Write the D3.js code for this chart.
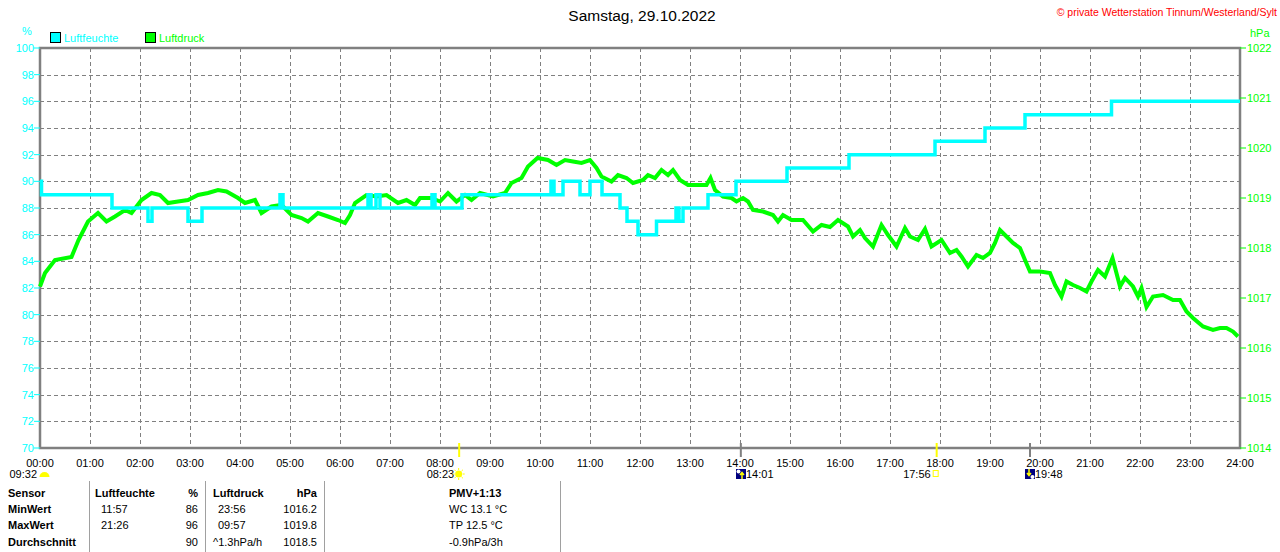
<!DOCTYPE html>
<html>
<head>
<meta charset="utf-8">
<script src="https://cdn.jsdelivr.net/npm/d3@7"></script>
<style>
  body { margin: 0; background: #fff; }
  svg { display: block; font-family: "Liberation Sans", Arial, sans-serif; }
</style>
</head>
<body>
<svg id="canvas" width="1280" height="552"></svg>
<script>
// humidity (%) - step values, time in hours
const humTime = [0, 0.03, 1.44, 2.16, 2.24, 2.96, 3.24, 4.8, 4.86, 6.56, 6.62, 6.72, 6.8, 7.84, 7.9, 8.44,
  10.22, 10.28, 10.46, 10.8, 11.0, 11.24, 11.6, 11.74, 11.96, 12.33, 12.72, 12.78, 12.86, 13.36, 13.92,
  14.94, 16.18, 17.9, 18.9, 19.7, 21.43, 24]
const humVal = [90, 89, 88, 87, 88, 87, 88, 89, 88, 89, 88, 89, 88, 89, 88, 89,
  90, 89, 90, 89, 90, 89, 88, 87, 86, 87, 88, 87, 88, 89, 90,
  91, 92, 93, 94, 95, 96, 96]

// air pressure (hPa)
const presTime = [0, 0.1, 0.3, 0.63, 0.77, 0.96, 1.16, 1.33, 1.5, 1.7, 1.83, 2.03, 2.23, 2.4, 2.56, 2.76, 2.96,
  3.16, 3.36, 3.56, 3.73, 3.96, 4.1, 4.3, 4.43, 4.63, 4.83, 5.03, 5.23, 5.36, 5.56, 5.76, 5.96, 6.1, 6.2, 6.3,
  6.53, 6.73, 6.93, 7.16, 7.33, 7.5, 7.6, 7.83, 8.0, 8.16, 8.33, 8.5, 8.63, 8.8, 9.06, 9.3, 9.43, 9.63, 9.76,
  9.95, 10.16, 10.33, 10.5, 10.66, 10.83, 11.0, 11.13, 11.23, 11.43, 11.56, 11.73, 11.86, 12.06, 12.16, 12.3,
  12.43, 12.56, 12.66, 12.8, 12.96, 13.16, 13.33, 13.41, 13.5, 13.66, 13.83, 13.93, 14.06, 14.16, 14.26, 14.46,
  14.66, 14.76, 14.86, 15.03, 15.26, 15.46, 15.63, 15.8, 15.96, 16.16, 16.26, 16.4, 16.5, 16.66, 16.83, 16.96,
  17.13, 17.3, 17.4, 17.56, 17.7, 17.83, 18.03, 18.2, 18.33, 18.43, 18.56, 18.73, 18.86, 19.0, 19.1, 19.2,
  19.33, 19.46, 19.6, 19.7, 19.8, 20.0, 20.2, 20.3, 20.43, 20.53, 20.66, 20.8, 20.93, 21.03, 21.16, 21.3,
  21.45, 21.6, 21.7, 21.86, 21.96, 22.03, 22.13, 22.26, 22.46, 22.66, 22.8, 22.93, 23.06, 23.26, 23.46, 23.6,
  23.73, 23.86, 23.96]
const presVal = [1017.23, 1017.5, 1017.76, 1017.82, 1018.16, 1018.53, 1018.7, 1018.53, 1018.63, 1018.76, 1018.7,
  1018.96, 1019.1, 1019.06, 1018.9, 1018.93, 1018.96, 1019.06, 1019.1, 1019.16, 1019.13, 1019.0, 1018.9, 1018.96,
  1018.7, 1018.83, 1018.86, 1018.66, 1018.6, 1018.53, 1018.7, 1018.63, 1018.56, 1018.5, 1018.66, 1018.9,
  1019.06, 1019.03, 1019.06, 1018.9, 1018.96, 1018.86, 1019.0, 1019.0, 1018.93, 1019.1, 1018.93, 1019.06,
  1018.96, 1019.1, 1019.03, 1019.1, 1019.3, 1019.4, 1019.63, 1019.8, 1019.76, 1019.66, 1019.76, 1019.73,
  1019.7, 1019.76, 1019.6, 1019.43, 1019.33, 1019.46, 1019.4, 1019.3, 1019.36, 1019.46, 1019.4, 1019.56,
  1019.46, 1019.56, 1019.36, 1019.26, 1019.26, 1019.26, 1019.4, 1019.16, 1019.03, 1019.0, 1018.93, 1019.0,
  1018.93, 1018.76, 1018.73, 1018.66, 1018.53, 1018.66, 1018.56, 1018.56, 1018.33, 1018.46, 1018.42, 1018.56,
  1018.43, 1018.23, 1018.36, 1018.2, 1018.03, 1018.46, 1018.26, 1018.03, 1018.4, 1018.23, 1018.16, 1018.38,
  1018.03, 1018.16, 1017.9, 1017.96, 1017.83, 1017.63, 1017.86, 1017.8, 1017.9, 1018.1, 1018.36, 1018.23,
  1018.1, 1018.0, 1017.76, 1017.53, 1017.53, 1017.5, 1017.26, 1017.03, 1017.33, 1017.26, 1017.2, 1017.13,
  1017.33, 1017.56, 1017.43, 1017.8, 1017.23, 1017.4, 1017.23, 1017.03, 1017.2, 1016.82, 1017.03, 1017.06,
  1016.96, 1016.96, 1016.73, 1016.6, 1016.43, 1016.36, 1016.4, 1016.4, 1016.33, 1016.23]

const humTicks = d3.range(70, 101, 2)
const presTicks = d3.range(1014, 1023, 1)
const hourTicks = d3.range(0, 25, 1)

// sun / moon events (hours)
const sunRise = 8 + 23 / 60
const sunSet = 17 + 56 / 60
const moonRise = 14 + 1 / 60
const moonSet = 19 + 48 / 60

const tableRows = [
  ["Sensor", "Luftfeuchte", "%", "Luftdruck", "hPa", "PMV+1:13"],
  ["MinWert", "11:57", "86", "23:56", "1016.2", "WC 13.1 °C"],
  ["MaxWert", "21:26", "96", "09:57", "1019.8", "TP 12.5 °C"],
  ["Durchschnitt", "", "90", "^1.3hPa/h", "1018.5", "-0.9hPa/3h"]
]

const pLeft = 40, pRight = 1240, pTop = 48, pBottom = 448
const CYAN = "#00ffff", GREEN = "#00ff00", GRID = "#808080"

let svg = d3.select("#canvas")

let x = d3.scaleLinear().domain([0, 24]).range([pLeft, pRight])
let yHum = d3.scaleLinear().domain([70, 100]).range([pBottom, pTop])
let yPres = d3.scaleLinear().domain([1014, 1022]).range([pBottom, pTop])

// title + copyright
svg.append("text").attr("x", 642).attr("y", 21).attr("text-anchor", "middle")
  .style("font-size", "15.5px").text("Samstag, 29.10.2022")
svg.append("text").attr("x", 1277).attr("y", 16).attr("text-anchor", "end")
  .style("font-size", "10.5px").attr("fill", "#ff0000")
  .text("© private Wetterstation Tinnum/Westerland/Sylt")

// grid
svg.append("g").selectAll("line").data(humTicks.filter(d => d > 70 && d < 100)).enter().append("line")
  .attr("x1", pLeft).attr("x2", pRight)
  .attr("y1", d => Math.round(yHum(d)) + 0.5).attr("y2", d => Math.round(yHum(d)) + 0.5)
  .attr("stroke", GRID).attr("stroke-dasharray", "4,3")
svg.append("g").selectAll("line").data(hourTicks.filter(d => d > 0 && d < 24)).enter().append("line")
  .attr("x1", d => x(d) + 0.5).attr("x2", d => x(d) + 0.5)
  .attr("y1", pTop).attr("y2", pBottom)
  .attr("stroke", GRID).attr("stroke-dasharray", "4,3")

// frame
svg.append("rect").attr("x", pLeft).attr("y", pTop).attr("width", pRight - pLeft).attr("height", pBottom - pTop)
  .attr("fill", "none").attr("stroke", GRID).attr("stroke-width", 2.5)

// left axis (humidity)
let yAxisL = svg.append("g")
yAxisL.selectAll("line").data(humTicks).enter().append("line")
  .attr("x1", pLeft - 6).attr("x2", pLeft).attr("y1", d => yHum(d)).attr("y2", d => yHum(d))
  .attr("stroke", CYAN)
yAxisL.selectAll("text").data(humTicks).enter().append("text")
  .attr("x", pLeft - 6).attr("y", d => yHum(d) + 4).attr("text-anchor", "end")
  .attr("fill", CYAN).style("font-size", "11px").text(d => d)
svg.append("text").attr("x", 27).attr("y", 35).attr("text-anchor", "middle")
  .attr("fill", CYAN).style("font-size", "11px").text("%")

// right axis (pressure)
let yAxisR = svg.append("g")
yAxisR.selectAll("line").data(presTicks).enter().append("line")
  .attr("x1", pRight).attr("x2", pRight + 6).attr("y1", d => yPres(d)).attr("y2", d => yPres(d))
  .attr("stroke", GREEN)
yAxisR.selectAll("text").data(presTicks).enter().append("text")
  .attr("x", pRight + 7).attr("y", d => yPres(d) + 4)
  .attr("fill", GREEN).style("font-size", "11px").text(d => d)
svg.append("text").attr("x", 1250).attr("y", 37)
  .attr("fill", GREEN).style("font-size", "11px").text("hPa")

// x axis labels
svg.append("g").selectAll("text").data(hourTicks).enter().append("text")
  .attr("x", d => x(d)).attr("y", 467).attr("text-anchor", "middle")
  .style("font-size", "11px").text(d => d3.format("02")(d) + ":00")

// legend
const legend = svg.append("g")
legend.append("rect").attr("x", 50.5).attr("y", 32.5).attr("width", 10).attr("height", 10)
  .attr("fill", CYAN).attr("stroke", "#000")
legend.append("text").attr("x", 64).attr("y", 42).attr("fill", CYAN).style("font-size", "11px").text("Luftfeuchte")
legend.append("rect").attr("x", 145.5).attr("y", 32.5).attr("width", 10).attr("height", 10)
  .attr("fill", GREEN).attr("stroke", "#000")
legend.append("text").attr("x", 159).attr("y", 42).attr("fill", GREEN).style("font-size", "11px").text("Luftdruck")

// lines
let presData = presTime.map((t, i) => [t, presVal[i]])
let humData = humTime.map((t, i) => [t, humVal[i]])

svg.append("path").datum(presData)
  .attr("d", d3.line().x(d => x(d[0])).y(d => yPres(d[1])))
  .attr("fill", "none").attr("stroke", GREEN).attr("stroke-width", 4).attr("stroke-linejoin", "miter")

svg.append("path").datum(humData)
  .attr("d", d3.line().x(d => x(d[0])).y(d => yHum(d[1])).curve(d3.curveStepAfter))
  .attr("fill", "none").attr("stroke", CYAN).attr("stroke-width", 3.5)

// sun / moon markers on the x axis
const markers = [[sunRise, "#ffff00"], [sunSet, "#ffff00"], [moonRise, GRID], [moonSet, GRID]]
svg.append("g").selectAll("line").data(markers).enter().append("line")
  .attr("x1", d => x(d[0])).attr("x2", d => x(d[0]))
  .attr("y1", 443).attr("y2", 457).attr("stroke", d => d[1]).attr("stroke-width", 2)

// day length with half sun
svg.append("text").attr("x", 37).attr("y", 478).attr("text-anchor", "end").style("font-size", "11px").text("09:32")
svg.append("path").attr("d", "M39.5,477 A5,5 0 0 1 49.5,477 Z").attr("fill", "#ffff00")

// sunrise
svg.append("text").attr("x", x(sunRise) - 5).attr("y", 478).attr("text-anchor", "end").style("font-size", "11px").text("08:23")
let sun = svg.append("g").attr("transform", `translate(${x(sunRise) - 0.5},474)`)
sun.append("circle").attr("r", 3.5).attr("fill", "#ffff00")
sun.selectAll("line").data(d3.range(8)).enter().append("line")
  .attr("x1", d => 4 * Math.cos(d * Math.PI / 4)).attr("y1", d => 4 * Math.sin(d * Math.PI / 4))
  .attr("x2", d => 6 * Math.cos(d * Math.PI / 4)).attr("y2", d => 6 * Math.sin(d * Math.PI / 4))
  .attr("stroke", "#ffff00")

// sunset
svg.append("text").attr("x", x(sunSet) - 6).attr("y", 478).attr("text-anchor", "end").style("font-size", "11px").text("17:56")
svg.append("rect").attr("x", x(sunSet) - 3.5).attr("y", 470.5).attr("width", 5).attr("height", 6)
  .attr("fill", "none").attr("stroke", "#ffff00")

// moon rise / set
const moonIcon = (t, up) => {
  let g = svg.append("g").attr("transform", `translate(${Math.round(x(t)) - 5},469)`)
  g.append("rect").attr("width", 10).attr("height", 10).attr("fill", "#000080")
  g.append("circle").attr("cx", up ? 2.5 : 7.5).attr("cy", up ? 2.5 : 8).attr("r", 2).attr("fill", "#fff")
  g.append("path").attr("d", up ? "M6,10 L6,4 M4,6 L6,3.5 L8,6" : "M4,0 L4,6 M2,4 L4,6.5 L6,4")
    .attr("stroke", "#ffff00").attr("stroke-width", 1.5).attr("fill", "none")
  svg.append("text").attr("x", Math.round(x(t)) + 5).attr("y", 478).style("font-size", "11px")
    .text(d3.format("02")(Math.floor(t)) + ":" + d3.format("02")(Math.round((t % 1) * 60)))
}
moonIcon(moonRise, true)
moonIcon(moonSet, false)

// table
const colX = [8, 101, 198, 218, 317, 449]
const colAnchor = ["start", "start", "end", "start", "end", "start"]
const rowY = [497, 513, 529, 546]
const sepX = [89, 205, 324, 560]
svg.append("g").selectAll("line").data(sepX).enter().append("line")
  .attr("x1", d => d + 0.5).attr("x2", d => d + 0.5).attr("y1", 481).attr("y2", 552)
  .attr("stroke", "#a0a0a0")

tableRows.forEach((row, r) => {
  row.forEach((cell, c) => {
    let bold = r === 0 || c === 0
    let xx = colX[c]
    if (r === 0 && c === 1) xx = 95
    if (r === 0 && c === 3) xx = 213
    if (r === 3 && c === 3) xx = 213
    svg.append("text").attr("x", xx).attr("y", rowY[r])
      .attr("text-anchor", colAnchor[c])
      .style("font-size", "11px").style("font-weight", bold ? "bold" : "normal")
      .text(cell)
  })
})
</script>
</body>
</html>
